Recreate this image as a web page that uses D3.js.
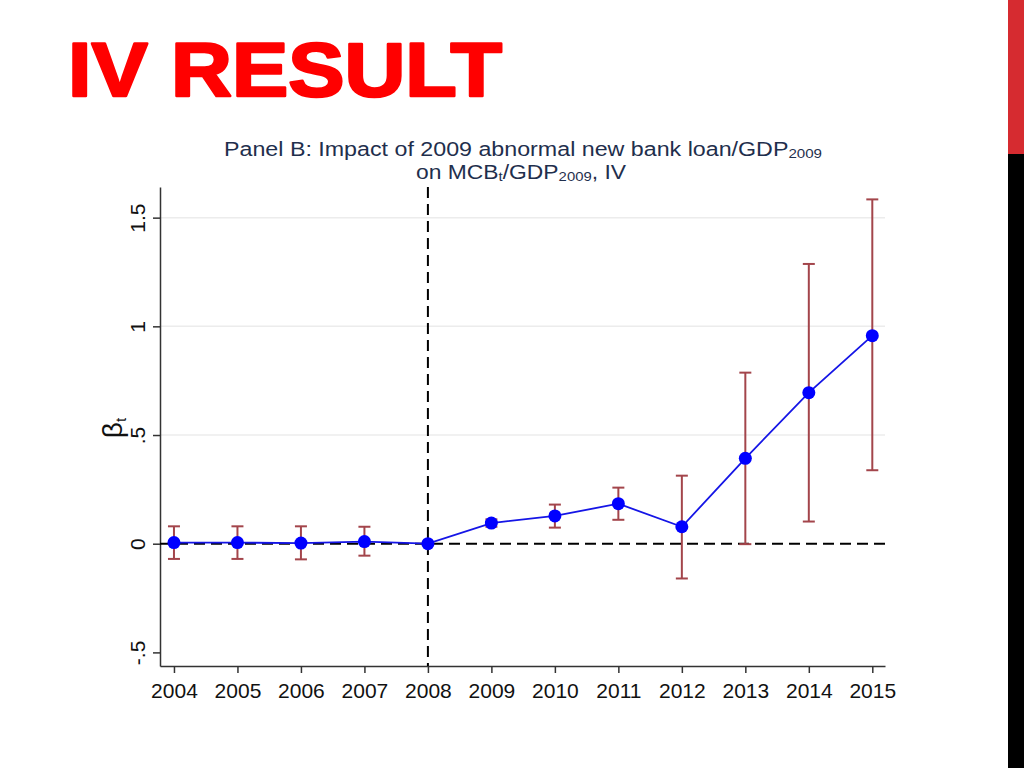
<!DOCTYPE html>
<html><head><meta charset="utf-8">
<script src="https://cdn.jsdelivr.net/npm/d3@7"></script>
<style>body{margin:0;background:#fff;} svg{display:block;}</style>
</head><body>
<svg id="c" width="1024" height="768"></svg>
<script>
const years = [2004,2005,2006,2007,2008,2009,2010,2011,2012,2013,2014,2015];
const beta  = [0.005,0.005,0.003,0.010,0.000,0.095,0.128,0.184,0.078,0.393,0.695,0.957];
const ciLow = [-0.070,-0.070,-0.072,-0.055,null,0.078,0.074,0.110,-0.160,-0.002,0.102,0.338];
const ciHigh= [0.080,0.080,0.080,0.078,null,0.112,0.180,0.258,0.313,0.787,1.287,1.584];
const yTicks = [-0.5,0,0.5,1,1.5];
const yTickLabels = ["-.5","0",".5","1","1.5"];
const gridVals = [0.5,1,1.5];

const svg = d3.select("#c");
svg.append("rect").attr("x",0).attr("y",0).attr("width",1024).attr("height",768).attr("fill","#fff");
// right edge bars
svg.append("rect").attr("x",1008).attr("y",0).attr("width",16).attr("height",154).attr("fill","#d62b30");
svg.append("rect").attr("x",1008).attr("y",154).attr("width",16).attr("height",614).attr("fill","#000");

// Slide title
svg.append("text").attr("x",68).attr("y",96)
  .attr("font-family","'Liberation Sans', Arial, sans-serif").attr("font-weight","bold")
  .attr("font-size",76).attr("fill","#ff0000").attr("stroke","#ff0000").attr("stroke-width",2.5)
  .attr("stroke-linejoin","round")
  .attr("textLength",434).attr("lengthAdjust","spacingAndGlyphs")
  .text("IV RESULT");

// Chart title
const tfont = "'Liberation Sans', Arial, sans-serif";
const t1 = svg.append("text").attr("x",224).attr("y",156)
  .attr("font-family",tfont).attr("font-size",20).attr("fill","#1f2f4d")
  .attr("textLength",598).attr("lengthAdjust","spacingAndGlyphs");
t1.append("tspan").text("Panel B: Impact of 2009 abnormal new bank loan/GDP");
t1.append("tspan").attr("font-size",13).attr("dy",2).text("2009");
const t2 = svg.append("text").attr("x",416).attr("y",179)
  .attr("font-family",tfont).attr("font-size",20).attr("fill","#1f2f4d")
  .attr("textLength",210).attr("lengthAdjust","spacingAndGlyphs");
t2.append("tspan").text("on MCB");
t2.append("tspan").attr("font-size",13).attr("dy",2).text("t");
t2.append("tspan").attr("dy",-2).text("/GDP");
t2.append("tspan").attr("font-size",13).attr("dy",2).text("2009");
t2.append("tspan").attr("dy",-2).text(", IV");

// scales
const x = d3.scaleLinear().domain([2003.78,2015.2]).range([160,885]);
const y = d3.scaleLinear().domain([-0.5626,1.641]).range([666,187]);

// gridlines
svg.append("g").selectAll("line").data(gridVals).join("line")
  .attr("x1",160).attr("x2",885).attr("y1",d=>y(d)).attr("y2",d=>y(d))
  .attr("stroke","#ececec").attr("stroke-width",1.5);

// axes
const xAxis = svg.append("g").attr("transform","translate(0,666)")
  .call(d3.axisBottom(x).tickValues(years).tickFormat(d3.format("d")).tickSize(7).tickSizeOuter(0));
xAxis.select(".domain").attr("stroke","#333").attr("stroke-width",1.5);
xAxis.selectAll(".tick line").attr("stroke","#333").attr("stroke-width",1.5);
xAxis.selectAll("text").attr("font-family",tfont).attr("font-size",21).attr("fill","#111").attr("dy","1.05em");

const yAxis = svg.append("g").attr("transform","translate(160,0)")
  .call(d3.axisLeft(y).tickValues(yTicks).tickFormat((d,i)=>yTickLabels[i]).tickSize(7).tickSizeOuter(0));
yAxis.select(".domain").attr("stroke","#333").attr("stroke-width",1.5);
yAxis.selectAll(".tick line").attr("stroke","#333").attr("stroke-width",1.5);
yAxis.selectAll("text").attr("font-family",tfont).attr("font-size",21).attr("fill","#111")
  .attr("text-anchor","middle").attr("x",0).attr("dy",0)
  .attr("transform","translate(-15,0) rotate(-90)");

// y axis title
const yt = svg.append("text").attr("transform","translate(122,428) rotate(-90)")
  .attr("text-anchor","middle").attr("font-family",tfont).attr("font-size",28).attr("fill","#111");
yt.append("tspan").text("β");
yt.append("tspan").attr("font-size",15).attr("dy",4).text("t");

// reference lines
svg.append("line").attr("x1",160).attr("x2",885).attr("y1",y(0)).attr("y2",y(0))
  .attr("stroke","#000").attr("stroke-width",2).attr("stroke-dasharray","11,6");
svg.append("line").attr("x1",x(2008)).attr("x2",x(2008)).attr("y1",187).attr("y2",666)
  .attr("stroke","#000").attr("stroke-width",2).attr("stroke-dasharray","11,6");

// error bars
const data = years.map((yr,i)=>({yr, b:beta[i], lo:ciLow[i], hi:ciHigh[i]}));
const eb = svg.append("g").selectAll("g").data(data.filter(d=>d.lo!==null)).join("g")
  .attr("stroke","#a3454b").attr("stroke-width",2);
eb.append("line").attr("x1",d=>x(d.yr)).attr("x2",d=>x(d.yr)).attr("y1",d=>y(d.lo)).attr("y2",d=>y(d.hi));
eb.append("line").attr("x1",d=>x(d.yr)-6).attr("x2",d=>x(d.yr)+6).attr("y1",d=>y(d.lo)).attr("y2",d=>y(d.lo));
eb.append("line").attr("x1",d=>x(d.yr)-6).attr("x2",d=>x(d.yr)+6).attr("y1",d=>y(d.hi)).attr("y2",d=>y(d.hi));

// line and points
svg.append("path").datum(data)
  .attr("d",d3.line().x(d=>x(d.yr)).y(d=>y(d.b)))
  .attr("fill","none").attr("stroke","#1515e6").attr("stroke-width",1.8);
svg.append("g").selectAll("circle").data(data).join("circle")
  .attr("cx",d=>x(d.yr)).attr("cy",d=>y(d.b)).attr("r",6.5).attr("fill","#0000ff");
</script>
</body></html>
